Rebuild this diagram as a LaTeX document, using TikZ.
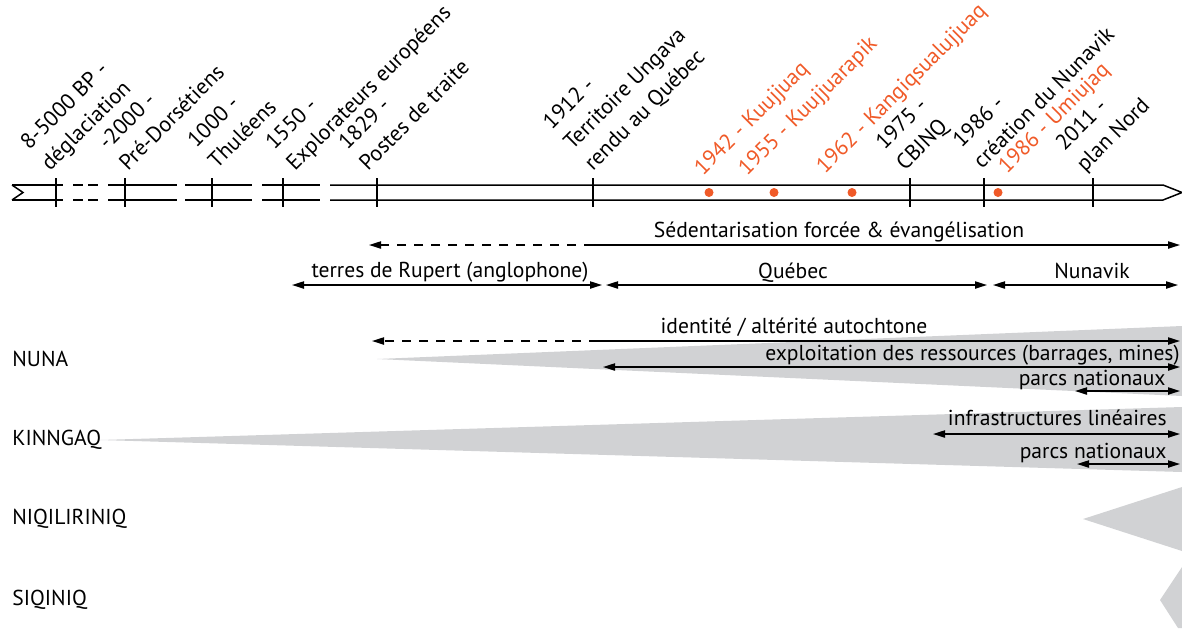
\documentclass[tikz,border=0pt]{standalone}
\usepackage{fontspec}
\setmainfont{PT Sans}
\usetikzlibrary{arrows.meta,positioning}
\definecolor{datecol}{RGB}{240,90,40}
\definecolor{zonegray}{RGB}{209,210,212}

\begin{document}
\begin{tikzpicture}[x=0.5pt, y=-0.5pt,
  lbl/.style={rotate=45, anchor=south west, inner sep=0pt, text depth=0pt,
              align=left, font=\fontsize{11}{14.5}\selectfont},
  datelbl/.style={lbl, text=datecol},
  rail/.style={line width=0.75pt},
  tickmark/.style={line width=1pt},
  dbl/.style={{Triangle[length=6pt,width=3.6pt]}-{Triangle[length=6pt,width=3.6pt]}, line width=0.75pt},
  fwd/.style={-{Triangle[length=6pt,width=3.6pt]}, line width=0.75pt},
  dashfwd/.style={fwd, dash pattern=on 4.5pt off 4pt},
  span/.style={anchor=base, inner sep=0pt, font=\fontsize{10.8}{12}\selectfont},
  spanr/.style={span, anchor=base east},
  region/.style={anchor=west, inner sep=0pt, font=\fontsize{10.8}{12}\selectfont},
  zone/.style={fill=zonegray, draw=none}
]
\useasboundingbox (0,0) rectangle (1182,628);

% grey zones
\fill[zone] (377,359) -- (1182,326) -- (1182,396) -- cycle;
\fill[zone] (100,440) -- (1182,407) -- (1182,472) -- cycle;
\fill[zone] (1083,519) -- (1182,487) -- (1182,551) -- cycle;
\fill[zone] (1160,600) -- (1182,567) -- (1182,628) -- (1178,628) -- cycle;

% timeline
\draw[rail] (12,185) -- (23,192.5) -- (12,200);
\draw[rail] (12,185) -- (63,185) (12,200) -- (63,200);
\draw[rail] (73,185) -- (83,185) (88,185) -- (98,185) (73,200) -- (83,200) (88,200) -- (98,200);
\draw[rail] (108,185) -- (177,185) (108,200) -- (177,200);
\draw[rail] (185,185) -- (252,185) (185,200) -- (252,200);
\draw[rail] (262,185) -- (320,185) (262,200) -- (320,200);
\draw[rail] (330,185) -- (1163,185) -- (1182,192.5) -- (1163,200) -- (330,200);
\draw[tickmark] (56,178) -- (56,207) (125,178) -- (125,207) (212,178) -- (212,207)
  (283,178) -- (283,207) (377,178) -- (377,207) (593,178) -- (593,207)
  (910,178) -- (910,207) (984,178) -- (984,207) (1093,178) -- (1093,207);
\fill[datecol] (709,192.5) circle[radius=4.5] (774,192.5) circle[radius=4.5]
  (852,192.5) circle[radius=4.5] (998,192.5) circle[radius=4.5];

% dates
\node[lbl] (degl) at (50,172) {8-5000 BP -\\déglaciation};
\node[lbl] (predor) at (128,172) {-2000 -\\Pré-Dorsétiens};
\node[lbl] (thule) at (217,170) {1000 -\\Thuléens};
\node[lbl] (explo) at (295,172) {1550 -\\Explorateurs européens};
\node[lbl] (postes) at (368,172) {1829 -\\Postes de traite};
\node[lbl] (ungava) at (593,172) {1912 -\\Territoire Ungava\\rendu au Québec};
\node[datelbl] (kuuj) at (703,177) {1942 - Kuujjuaq};
\node[datelbl] (kuujr) at (747,177) {1955 - Kuujjuarapik};
\node[datelbl] (kang) at (825,175) {1962 - Kangiqsualujjuaq};
\node[lbl] (cbjnq) at (905,172) {1975 -\\CBJNQ};
\node[lbl] (nunavik) at (982,170) {1986 -\\création du Nunavik};
\node[datelbl] (umiu) at (1007,175) {1986 - Umiujaq};
\node[lbl] (plan) at (1085,173) {2011 -\\plan Nord};

% periods
\coordinate (sed-l) at (369,245);
\coordinate (sed-m) at (593,245);
\coordinate (sed-r) at (1180,245);
\draw[dashfwd] (sed-m) -- (sed-l);
\draw[fwd] (sed-m) -- (sed-r);
\node[span] (sed) at (839,237) {Sédentarisation forcée \& évangélisation};

\coordinate (rup-l) at (292,285);
\coordinate (rup-r) at (602,285);
\coordinate (qc-l) at (606,285);
\coordinate (qc-r) at (987,285);
\coordinate (nv-l) at (993,285);
\coordinate (nv-r) at (1178,285);
\draw[dbl] (rup-l) -- (rup-r);
\draw[dbl] (qc-l) -- (qc-r);
\draw[dbl] (nv-l) -- (nv-r);
\node[span] (rupert) at (450,277) {terres de Rupert (anglophone)};
\node[span] (quebec) at (793,278) {Québec};
\node[span] (nunav) at (1092,278) {Nunavik};

% territories
\node[region] (nuna) at (12,359) {NUNA};
\node[region] (kinngaq) at (12,440) {KINNGAQ};
\node[region] (niqil) at (12,519) {NIQILIRINIQ};
\node[region] (siqiniq) at (12,600) {SIQINIQ};

\coordinate (id-l) at (372,341);
\coordinate (id-m) at (598,341);
\coordinate (id-r) at (1180,341);
\draw[dashfwd] (id-m) -- (id-l);
\draw[fwd] (id-m) -- (id-r);
\node[span] (ident) at (794,333) {identité / altérité autochtone};

\coordinate (res-l) at (603,367);
\coordinate (res-r) at (1180,367);
\draw[dbl] (res-l) -- (res-r);
\node[spanr] (ressources) at (1180,360) {exploitation des ressources (barrages, mines)};

\coordinate (pn1-l) at (1075,391);
\coordinate (pn1-r) at (1180,391);
\draw[dbl] (pn1-l) -- (pn1-r);
\node[spanr] (parcs1) at (1166,385) {parcs nationaux};

\coordinate (inf-l) at (933,434);
\coordinate (inf-r) at (1180,434);
\draw[dbl] (inf-l) -- (inf-r);
\node[spanr] (infra) at (1167,425) {infrastructures linéaires};

\coordinate (pn2-l) at (1077,464);
\coordinate (pn2-r) at (1180,464);
\draw[dbl] (pn2-l) -- (pn2-r);
\node[spanr] (parcs2) at (1167,458) {parcs nationaux};
\end{tikzpicture}
\end{document}
